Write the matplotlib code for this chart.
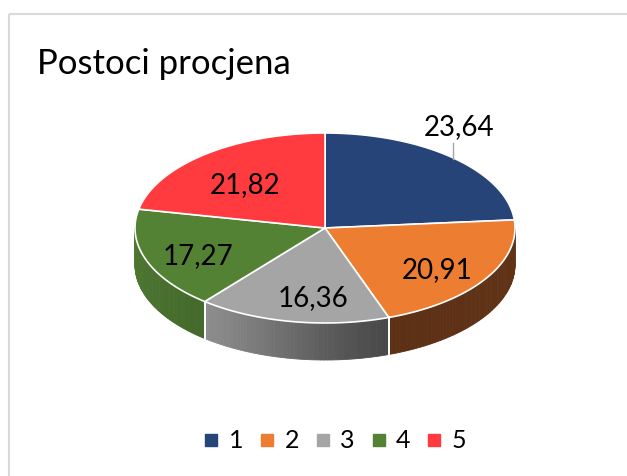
import numpy as np
import matplotlib
matplotlib.use("Agg")
import matplotlib.pyplot as plt
from matplotlib.patches import Polygon, Rectangle
from matplotlib.lines import Line2D
from matplotlib.colors import to_rgb

plt.rcParams['font.family'] = ['Lato', 'DejaVu Sans']

title = "Postoci procjena"
categories = ["1", "2", "3", "4", "5"]
values = [23.64, 20.91, 16.36, 17.27, 21.82]
colors = ["#264478", "#ED7D31", "#A5A5A5", "#548235", "#FF3B3F"]
side_colors = ["#1B3055", "#5F3216", "#A5A5A5", "#548235", "#B02A2C"]

W, H = 627, 476
fig = plt.figure(figsize=(W / 100, H / 100), dpi=100)
ax = fig.add_axes([0, 0, 1, 1])
ax.set_xlim(0, W)
ax.set_ylim(H, 0)
ax.axis("off")

# chart area border (cut off on right/bottom)
ax.add_patch(Rectangle((9, 14), 700, 600, fill=False, edgecolor="#D9D9D9", lw=1.5))

cx, cy, rx, ry, depth = 325, 228, 190, 95, 37


def pt(theta, dy=0):
    t = np.radians(theta)
    return cx + rx * np.cos(t), cy - ry * np.sin(t) + dy


def shade(theta):
    # lighter toward the left of the front wall, darker toward the right
    s = np.clip((-theta - 60) / 80.0, 0, 1)
    s = s * s * (3 - 2 * s)
    return 0.42 + 0.46 * s


total = sum(values)
bounds = [90.0]
for v in values:
    bounds.append(bounds[-1] - v / total * 360.0)

# side walls (front half, theta in [-180, 0])
for i, (a0, a1) in enumerate(zip(bounds[:-1], bounds[1:])):
    lo, hi = max(a1, -180.0), min(a0, 0.0)
    if lo >= hi:
        lo2, hi2 = max(a1 + 360, -180.0), min(a0 + 360, 0.0)
        if lo2 >= hi2:
            continue
        lo, hi = lo2, hi2
    base = np.array(to_rgb(side_colors[i]))
    ts = np.linspace(hi, lo, 60)
    for t0, t1 in zip(ts[:-1], ts[1:]):
        if i == 1:
            c = base * (0.97 + 0.05 * (t0 + 70) / 70)
        elif i == 3:
            c = base * (0.93 - 0.12 * (t0 + 180) / 50)
        else:
            c = base * shade(t0)
        c = np.clip(c, 0, 1)
        p0, p1 = pt(t0), pt(t1)
        q1, q0 = pt(t1, depth), pt(t0, depth)
        ax.add_patch(Polygon([p0, p1, q1, q0], closed=True, facecolor=c,
                             edgecolor=c, lw=0.6))
    for a in (a0, a1):
        a = a if -180 <= a <= 0 else a + 360
        if -180 < a < 0:
            x0, y0 = pt(a)
            ax.plot([x0, x0], [y0, y0 + depth], color="white", lw=1.2)

# top faces
for i, (a0, a1) in enumerate(zip(bounds[:-1], bounds[1:])):
    ts = np.linspace(a0, a1, 120)
    pts = [(cx, cy)] + [pt(t) for t in ts]
    ax.add_patch(Polygon(pts, closed=True, facecolor=colors[i],
                         edgecolor="white", lw=1.2, joinstyle="round"))

# data labels
fmt = [f"{v:.2f}".replace(".", ",") for v in values]
label_pos = [(459, 127), (437, 270), (313, 298), (198, 256), (245, 185)]
for i, (x, y) in enumerate(label_pos):
    ax.text(x, y, fmt[i], ha="center", va="center", fontsize=20, color="black")
ax.plot([453, 453], [143, 159], color="#A6A6A6", lw=1)

ax.text(37, 64, title, ha="left", va="center", fontsize=25, color="black")

handles = [Line2D([], [], marker="s", ls="none", color=c, markersize=8)
           for c in colors]
fig.legend(handles, categories, loc="center", bbox_to_anchor=(334 / W, 1 - 441 / H),
           ncol=5, frameon=False, fontsize=18, handletextpad=0.3,
           columnspacing=0.55, handlelength=0.8)

fig.savefig("out.png", dpi=100)
